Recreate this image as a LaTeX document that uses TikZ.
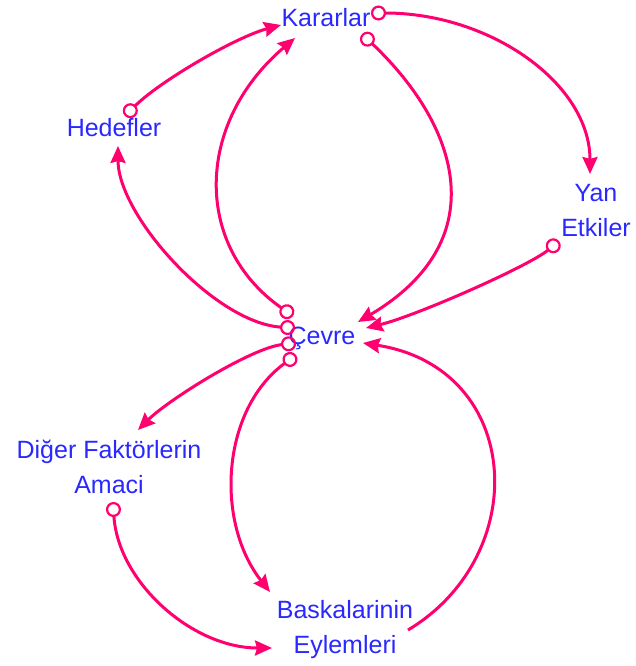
\documentclass[tikz,border=0pt]{standalone}
\usepackage{fontspec}
\setmainfont{Liberation Sans}
\usetikzlibrary{arrows.meta}
\definecolor{linkpink}{RGB}{255,0,110}
\definecolor{varblue}{RGB}{40,40,255}
\tikzset{>={Stealth[length=17pt,width=15pt,inset=2pt]}}
\tikzset{
    var/.style={text=varblue, align=center, inner sep=0pt, font=\fontsize{25}{35}\selectfont},
    link/.style={draw=linkpink, line width=3pt, arrows={Circle[open,length=15pt,line width=2.2pt]->}},
    plain link/.style={draw=linkpink, line width=3pt, ->}
}

\begin{document}
\begin{tikzpicture}[x=1pt, y=-1pt]
    \useasboundingbox (0, 0) rectangle (635, 666);
    \node [var] (kararlar) at (326, 18) {Kararlar};
    \node [var] (hedefler) at (114, 128) {Hedefler};
    \node [var] (yan etkiler) at (596, 211) {Yan\\Etkiler};
    \node [var] (cevre) at (322, 338) {Çevre};
    \node [var] (diger) at (109, 467) {Diğer Faktörlerin\\Amaci};
    \node [var] (baskalarinin) at (345, 630) {Baskalarinin\\Eylemleri};
    % upper loops
    \draw [link] ([shift={(11, -12)}]hedefler.center) .. controls +(35, -35) and +(-45, 12) .. ([shift={(-45, 7)}]kararlar.center);
    \draw [link] ([shift={(45, -5)}]kararlar.center) .. controls +(120, 0) and +(0, -90) .. ([shift={(-6, -37)}]yan etkiler.center);
    \draw [link] ([shift={(36, 16)}]kararlar.center) .. controls +(100, 95) and +(135, -80) .. ([shift={(36, -16)}]cevre.center);
    \draw [link] ([shift={(-37, 30)}]yan etkiler.center) .. controls +(-30, 25) and +(50, -12) .. ([shift={(44, -10)}]cevre.center);
    \draw [link] ([shift={(-29, -22)}]cevre.center) .. controls +(-100, -70) and +(-100, 85) .. ([shift={(-31, 20)}]kararlar.center);
    \draw [link] ([shift={(-27, -10)}]cevre.center) .. controls +(-80, -5) and +(0, 70) .. ([shift={(4, 18)}]hedefler.center);
    % lower loops
    \draw [link] ([shift={(-26, 5)}]cevre.center) .. controls +(-45, 5) and +(30, -30) .. ([shift={(29, -37)}]diger.center);
    \draw [link] ([shift={(-26, 17)}]cevre.center) .. controls +(-75, 55) and +(-55, -70) .. ([shift={(-75, -38)}]baskalarinin.center);
    \draw [plain link] ([shift={(63, 0)}]baskalarinin.center) .. controls +(125, -75) and +(160, 25) .. ([shift={(41, 5)}]cevre.center);
    \draw [link] ([shift={(4, 35)}]diger.center) .. controls +(5, 80) and +(-80, 0) .. ([shift={(-73, 18)}]baskalarinin.center);
\end{tikzpicture}
\end{document}
